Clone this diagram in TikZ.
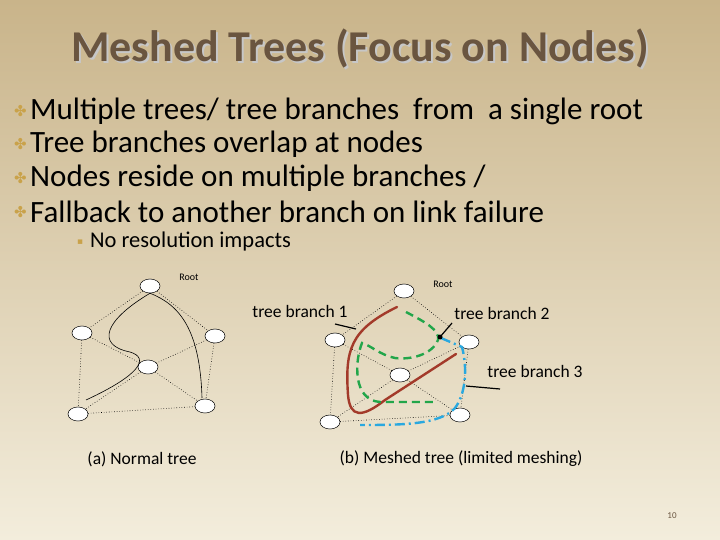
\documentclass[tikz,border=0pt]{standalone}
\usepackage{fontspec}
\setmainfont{Carlito}
\newfontfamily\dv{DejaVu Sans}
\usetikzlibrary{shapes.geometric}
\definecolor{bgA}{HTML}{C9B48A}
\definecolor{bgB}{HTML}{F3EDDC}
\definecolor{ttl}{HTML}{6A5540}
\definecolor{bul}{HTML}{C9A24A}
\definecolor{brn}{HTML}{A33A2A}
\definecolor{grn}{HTML}{22A64A}
\definecolor{blu}{HTML}{2AA8DF}
\begin{document}
\begin{tikzpicture}[x=1pt,y=-1pt,
  nd/.style={ellipse,draw,fill=white,minimum width=20pt,minimum height=14pt,inner sep=0pt,line width=0.5pt},
  ed/.style={dotted,line width=0.6pt},
  txt/.style={anchor=west,inner sep=0pt,font=\fontsize{31}{33}\selectfont},
  lab/.style={inner sep=0pt,font=\fontsize{17.5}{19}\selectfont},
  blt/.style={text=bul,font=\dv\fontsize{15}{16}\selectfont,anchor=west,inner sep=0pt},
  ptr/.style={line width=1.2pt}]
\shade[left color=bgA,right color=bgB,shading angle=0] (0,0) rectangle (720,540);
\useasboundingbox (0,0) rectangle (720,540);
\node[text=black!22,font=\bfseries\fontsize{44}{46}\selectfont] (tt) at (362,50) {\makebox[0pt]{Meshed Trees (Focus on Nodes)}\makebox[0pt]{\hspace{-4pt}\raisebox{2pt}{\textcolor{ttl}{Meshed Trees (Focus on Nodes)}}}};
\node[blt] (b1) at (14,111) {✤}; \node[txt] (t1) at (30,111) {Multiple trees/ tree branches\ \ from\ \ a single root};
\node[blt] (b2) at (14,144) {✤}; \node[txt] (t2) at (30,144) {Tree branches overlap at nodes};
\node[blt] (b3) at (14,178) {✤}; \node[txt] (t3) at (30,178) {Nodes reside on multiple branches /};
\node[blt] (b4) at (14,212) {✤}; \node[txt] (t4) at (30,212) {Fallback to another branch on link failure};
\node[text=bul,font=\dv\fontsize{9}{10}\selectfont,anchor=west,inner sep=0pt] (sb) at (77,242) {▪};
\node[anchor=west,inner sep=0pt,font=\fontsize{22.5}{24}\selectfont] (st) at (90,242) {No resolution impacts};
% left graph
\node[nd] (r) at (150,286) {}; \node[nd] (l) at (82,333) {}; \node[nd] (rt) at (215,336) {};
\node[nd] (c) at (148,367) {}; \node[nd] (bl) at (78,414) {}; \node[nd] (br) at (205,406) {};
\foreach \a/\b in {r/l,r/rt,l/bl,l/c,rt/c,rt/br,c/bl,c/br,bl/br} \draw[ed] (\a)--(\b);
\draw[line width=0.6pt] (r.south) .. controls (105,320) and (95,345) .. (130,352) .. controls (150,358) and (140,375) .. (86,400);
\draw[line width=0.6pt] (r.south) .. controls (180,305) and (200,330) .. (202,398);
\node[font=\fontsize{10}{11}\selectfont] (rl) at (189,277) {Root};
\node[lab] (na) at (142,459) {(a) Normal tree};
% right graph
\node[nd] (R) at (404,291) {}; \node[nd] (L) at (335,340) {}; \node[nd] (RT) at (469,342) {};
\node[nd] (C) at (400,375) {}; \node[nd] (BL) at (330,422) {}; \node[nd] (BR) at (460,415) {};
\foreach \a/\b in {R/L,R/RT,L/BL,L/C,RT/C,RT/BR,C/BL,C/BR,BL/BR} \draw[ed] (\a)--(\b);
\draw[brn,line width=2.4pt,line cap=round] (397,307) .. controls (350,330) and (345,350) .. (348,395) .. controls (350,418) and (362,418) .. (385,400) -- (456,354);
\draw[grn,line width=2.4pt,dash pattern=on 8pt off 5pt] (406,312) .. controls (425,322) and (440,330) .. (438,340) .. controls (432,355) and (410,360) .. (395,358) .. controls (380,355) and (370,345) .. (362,343) .. controls (355,360) and (352,400) .. (380,402) -- (437,402);
\draw[blu,line width=2.4pt,dash pattern=on 10pt off 4pt on 2pt off 4pt] (441,338) -- (462,347) .. controls (468,370) and (465,395) .. (455,408) .. controls (440,425) and (400,425) .. (360,425);
\node[font=\fontsize{10}{11}\selectfont] (Rl) at (443,284) {Root};
\node[lab] (tb1) at (300,311) {tree branch 1};
\node[lab] (tb2) at (502,313) {tree branch 2};
\node[lab] (tb3) at (535,371) {tree branch 3};
\coordinate (p1) at (356,329); \coordinate (p2) at (440,337); \coordinate (p3) at (466,386);
\draw[ptr] (335,324) -- (p1);
\draw[ptr] (452,323) -- (p2); \fill (p2) circle (2.5pt);
\draw[ptr] (500,389) -- (p3);
\node[lab] (nb) at (461,459) {(b) Meshed tree (limited meshing)};
\node[text=ttl,font=\fontsize{9}{10}\selectfont] (pg) at (672,516) {10};
\end{tikzpicture}
\end{document}
